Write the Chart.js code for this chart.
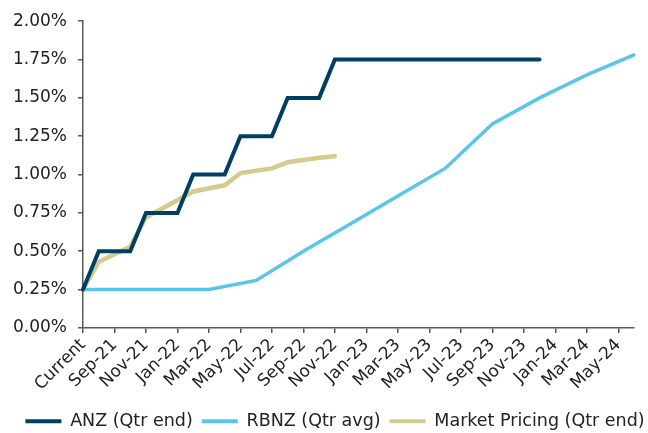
<!DOCTYPE html>
<html>
<head>
<meta charset="utf-8">
<script src="https://cdn.jsdelivr.net/npm/chart.js@4.4.1/dist/chart.umd.min.js"></script>
<style>
  html, body { margin: 0; padding: 0; background: #fff; }
  #wrap { width: 648px; height: 433px; }
</style>
</head>
<body>
<div id="wrap"><canvas id="rateChart" width="648" height="433"></canvas></div>
<script>
// monthly categories, only every 2nd one gets a label
const months = ["Current", "Aug-21", "Sep-21", "Oct-21", "Nov-21", "Dec-21", "Jan-22", "Feb-22", "Mar-22",
    "Apr-22", "May-22", "Jun-22", "Jul-22", "Aug-22", "Sep-22", "Oct-22", "Nov-22", "Dec-22",
    "Jan-23", "Feb-23", "Mar-23", "Apr-23", "May-23", "Jun-23", "Jul-23", "Aug-23", "Sep-23",
    "Oct-23", "Nov-23", "Dec-23", "Jan-24", "Feb-24", "Mar-24", "Apr-24", "May-24", "Jun-24"];

const anz = [0.25, 0.50, 0.50, 0.50, 0.75, 0.75, 0.75, 1.00, 1.00, 1.00, 1.25, 1.25, 1.25, 1.50, 1.50, 1.50,
    1.75, 1.75, 1.75, 1.75, 1.75, 1.75, 1.75, 1.75, 1.75, 1.75, 1.75, 1.75, 1.75, 1.75,
    null, null, null, null, null, null];

const rbnz = [0.25, null, 0.25, null, null, 0.25, null, null, 0.25, null, null, 0.31, null, null, 0.50, null,
    null, 0.68, null, null, 0.86, null, null, 1.04, null, null, 1.33, null, null, 1.50,
    null, null, 1.65, null, null, 1.78];

const market = [0.25, 0.43, null, 0.53, 0.72, null, null, 0.89, null, 0.93, 1.01, null, 1.04, 1.08, null, 1.11,
    1.12, null, null, null, null, null, null, null, null, null, null, null, null, null,
    null, null, null, null, null, null];

const yTicks = [0, 0.25, 0.5, 0.75, 1, 1.25, 1.5, 1.75, 2];

const axisGrey = "#595959";
const textCol = "#222222";

Chart.defaults.font.family = "'DejaVu Sans', Verdana, sans-serif";
Chart.defaults.font.size = 17;
Chart.defaults.color = textCol;

function lineSet(label, data, color, width) {
    return {
        label: label,
        data: data,
        borderColor: color,
        backgroundColor: color,
        borderWidth: width,
        pointRadius: 0,
        tension: 0,
        spanGaps: true,
        borderCapStyle: "round",
        fill: false
    };
}

// nudge the legend row to where it sits in the original
const legendShift = {
    id: "legendShift",
    afterLayout: function (chart) {
        const lg = chart.legend;
        lg.left += 11; lg.right += 11;
        lg.top += 7; lg.bottom += 7;
    }
};

new Chart(document.getElementById("rateChart").getContext("2d"), {
    type: "line",
    data: {
        labels: months,
        datasets: [
            lineSet("ANZ (Qtr end)", anz, "#003F64", 4),
            lineSet("RBNZ (Qtr avg)", rbnz, "#5BC5E9", 3.5),
            lineSet("Market Pricing (Qtr end)", market, "#D3CC8E", 4.5)
        ]
    },
    plugins: [legendShift],
    options: {
        responsive: false,
        animation: false,
        layout: { padding: { top: 9, right: 0, left: 0, bottom: 0 } },
        plugins: {
            tooltip: { enabled: false },
            legend: {
                position: "bottom",
                labels: {
                    boxWidth: 36,
                    boxHeight: 4,
                    padding: 9,
                    font: { size: 17.5 },
                    generateLabels: function (chart) {
                        return chart.data.datasets.map(function (ds, i) {
                            return {
                                text: ds.label,
                                fillStyle: ds.borderColor,
                                strokeStyle: ds.borderColor,
                                lineWidth: 0,
                                fontColor: textCol,
                                datasetIndex: i
                            };
                        });
                    }
                }
            }
        },
        scales: {
            x: {
                type: "category",
                offset: false,
                afterFit: function (scale) {
                    scale.paddingRight = 14;
                },
                grid: { display: true, drawOnChartArea: false, drawTicks: true, tickLength: 5, color: axisGrey, lineWidth: 1.5 },
                border: { display: true, color: axisGrey, width: 1.5 },
                ticks: {
                    autoSkip: false,
                    maxRotation: 45,
                    minRotation: 45,
                    padding: 2,
                    callback: function (val, idx) {
                        return idx % 2 === 0 ? months[idx] : null;
                    }
                }
            },
            y: {
                min: 0,
                max: 2,
                afterFit: function (scale) { scale.width = 83; },
                afterBuildTicks: function (scale) {
                    scale.ticks = yTicks.map(function (v) { return { value: v }; });
                },
                grid: { display: true, drawOnChartArea: false, drawTicks: true, tickLength: 5, color: axisGrey, lineWidth: 1.5 },
                border: { display: true, color: axisGrey, width: 1.5 },
                ticks: {
                    padding: 11,
                    callback: function (v) { return v.toFixed(2) + "%"; }
                }
            }
        }
    }
});
</script>
</body>
</html>
